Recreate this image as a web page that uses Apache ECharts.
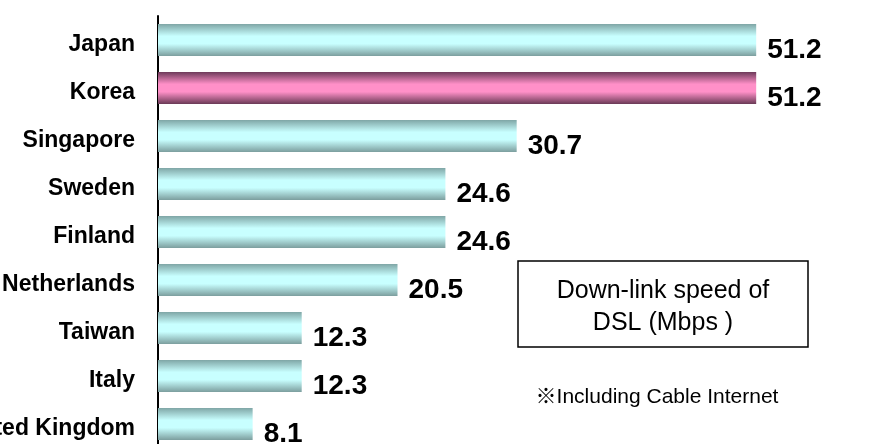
<!DOCTYPE html>
<html>
<head>
<meta charset="utf-8">
<script src="https://cdn.jsdelivr.net/npm/echarts@6/dist/echarts.min.js"></script>
<style>
  html, body { margin: 0; padding: 0; background: #fff; }
  #chart { width: 871px; height: 444px; }
</style>
</head>
<body>
<div id="chart"></div>
<script>
// Countries, top to bottom
const countries = ['Japan', 'Korea', 'Singapore', 'Sweden', 'Finland', 'Netherlands', 'Taiwan', 'Italy', 'United Kingdom'];
// Down-link speed of DSL (Mbps)
const speeds = [51.2, 51.2, 30.7, 24.6, 24.6, 20.5, 12.3, 12.3, 8.1];
// Country drawn in the highlight colour
const highlighted = 'Korea';

function barGradient(edgeTop, light, edgeBottom) {
  return new echarts.graphic.LinearGradient(0, 0, 0, 1, [
    { offset: 0, color: edgeTop },
    { offset: 0.38, color: light },
    { offset: 0.62, color: light },
    { offset: 1, color: edgeBottom }
  ]);
}
const cyanFill = barGradient('#7fa6a6', '#c8ffff', '#7c9e9e');
const pinkFill = barGradient('#6e3a5a', '#ff90c8', '#6a3a56');

const chart = echarts.init(document.getElementById('chart'), null, { renderer: 'canvas' });

chart.setOption({
  animation: false,
  backgroundColor: '#ffffff',
  grid: {
    left: 158, right: 12, top: 16, bottom: -4,
    containLabel: false,
    outerBoundsMode: 'none'
  },
  xAxis: {
    type: 'value',
    min: 0,
    max: 60,
    show: false
  },
  yAxis: {
    type: 'category',
    data: countries,
    inverse: true,
    axisLine: { show: true, lineStyle: { color: '#000', width: 2 } },
    axisTick: { show: false },
    axisLabel: {
      margin: 23,
      formatter: v => '{n|' + v + '}',
      rich: {
        n: {
          color: '#000',
          fontFamily: 'Liberation Sans, Arial, sans-serif',
          fontWeight: 'bold',
          fontSize: 23,
          padding: [10, 0, 0, 0]
        }
      }
    },
    splitLine: { show: false }
  },
  series: [{
    type: 'bar',
    data: countries.map((c, i) => ({
      value: speeds[i],
      itemStyle: { color: c === highlighted ? pinkFill : cyanFill }
    })),
    barWidth: 32,
    label: {
      show: true,
      position: 'right',
      distance: 11,
      offset: [0, 10],
      color: '#000',
      fontFamily: 'Liberation Sans, Arial, sans-serif',
      fontWeight: 'bold',
      fontSize: 28,
      formatter: p => p.value.toFixed(1)
    }
  }],
  graphic: [
    {
      type: 'rect',
      shape: { x: 518, y: 261, width: 290, height: 86 },
      style: { fill: '#fff', stroke: '#000', lineWidth: 1.5 }
    },
    {
      type: 'text',
      x: 663,
      y: 307,
      style: {
        text: 'Down-link speed of\nDSL (Mbps )',
        fontFamily: 'Liberation Sans, Arial, sans-serif',
        fontSize: 25,
        lineHeight: 32,
        fill: '#000',
        align: 'center',
        verticalAlign: 'middle'
      }
    },
    {
      type: 'text',
      x: 657,
      y: 397,
      style: {
        text: '※Including Cable Internet',
        fontFamily: 'Liberation Sans, Arial, "Noto Sans CJK JP", sans-serif',
        fontSize: 21,
        fill: '#000',
        align: 'center',
        verticalAlign: 'middle'
      }
    }
  ]
});
</script>
</body>
</html>
